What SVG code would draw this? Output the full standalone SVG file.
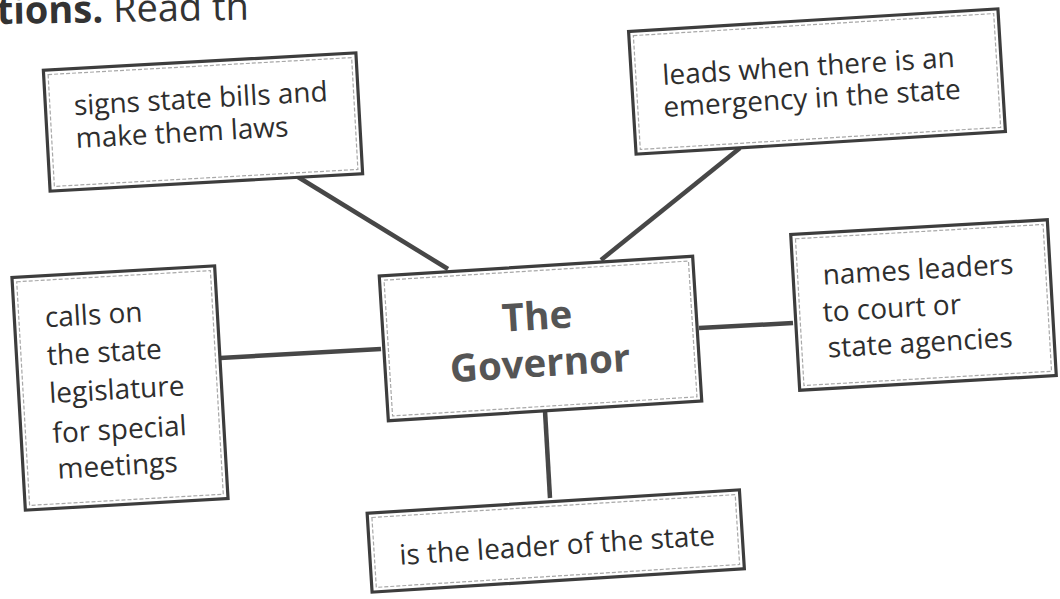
<svg xmlns="http://www.w3.org/2000/svg" width="1060" height="599" viewBox="0 0 1060 599">
<style>
.box{fill:#fff;stroke:#3d3d3d;stroke-width:3.2}
.inner{fill:none;stroke:#a8a8a8;stroke-width:1.2;stroke-dasharray:4 2}
.t{font-family:"Open Sans","Noto Sans",sans-serif;font-size:28px;fill:#2e2e2e}
.title{font-family:"Open Sans","Noto Sans",sans-serif;font-size:38.5px;font-weight:bold;fill:#555;text-anchor:middle}
.conn{stroke:#474747;stroke-width:4.5;fill:none}
.head{font-family:"Open Sans","Noto Sans",sans-serif;font-size:38px;fill:#333}
</style>
<rect width="1060" height="599" fill="#fff"/>
<g id="heading">
<text class="head" x="-3" y="24" transform="rotate(-1 0 24)"><tspan font-weight="bold">tions.</tspan> Read th</text>
</g>
<g id="connectors">
<line class="conn" x1="298" y1="177" x2="448" y2="269"/>
<line class="conn" x1="740" y1="148" x2="601" y2="260"/>
<line class="conn" x1="220" y1="358" x2="381" y2="349"/>
<line class="conn" x1="699" y1="328" x2="793" y2="323"/>
<line class="conn" x1="545" y1="411" x2="550" y2="498"/>
</g>
<g id="node-signs" transform="translate(203,122) rotate(-3.2)">
<rect class="box" x="-156.5" y="-60.5" width="313" height="121"/>
<rect class="inner" x="-152" y="-56" width="304" height="112"/>
<text class="t" x="-128" y="-14">signs state bills and</text>
<text class="t" x="-128" y="19">make them laws</text>
</g>
<g id="node-leads" transform="translate(817,81.5) rotate(-3.5)">
<rect class="box" x="-185" y="-61.5" width="370" height="123"/>
<rect class="inner" x="-180.5" y="-57" width="361" height="114"/>
<text class="t" x="-154" y="-6">leads when there is an</text>
<text class="t" x="-155" y="26">emergency in the state</text>
</g>
<g id="node-calls" transform="translate(120,388) rotate(-3.3)">
<rect class="box" x="-101.5" y="-116.5" width="203" height="233"/>
<rect class="inner" x="-97" y="-112" width="194" height="224"/>
<text class="t" x="-71" y="-65">calls on</text>
<text class="t" x="-71" y="-27">the state</text>
<text class="t" x="-71" y="11">legislature</text>
<text class="t" x="-70" y="51">for special</text>
<text class="t" x="-67" y="87">meetings</text>
</g>
<g id="node-governor" transform="translate(540.5,338.5) rotate(-3.6)">
<rect class="box" x="-157" y="-72.5" width="314" height="145"/>
<rect class="inner" x="-152.5" y="-68" width="305" height="136"/>
<text class="title" x="-2" y="-9">The</text>
<text class="title" x="-2" y="38">Governor</text>
</g>
<g id="node-names" transform="translate(923.5,305) rotate(-3.3)">
<rect class="box" x="-128.5" y="-78" width="257" height="156"/>
<rect class="inner" x="-124" y="-73.5" width="248" height="147"/>
<text class="t" x="-99" y="-26">names leaders</text>
<text class="t" x="-101" y="11">to court or</text>
<text class="t" x="-98" y="47">state agencies</text>
</g>
<g id="node-leader" transform="translate(555.75,541) rotate(-3.6)">
<rect class="box" x="-186.5" y="-39.5" width="373" height="79"/>
<rect class="inner" x="-182" y="-35" width="364" height="70"/>
<text class="t" x="-157" y="14">is the leader of the state</text>
</g>
</svg>
